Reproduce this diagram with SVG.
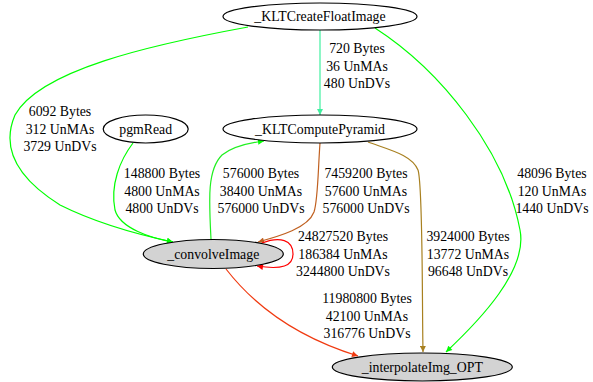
<svg xmlns="http://www.w3.org/2000/svg" width="593" height="382" viewBox="0 0 593 382">
<style>
text{font-family:'Liberation Serif','DejaVu Serif','Times New Roman',serif;font-size:13.8px;fill:#000;text-anchor:middle}
.n{fill:#fff;stroke:#000;stroke-width:1.2}
.g{fill:#d3d3d3;stroke:#000;stroke-width:1.2}
.e{fill:none;stroke-width:1.2}
</style>
<defs>
<marker id="aG" viewBox="0 0 10 10" refX="10" refY="5" markerWidth="7" markerHeight="6" markerUnits="userSpaceOnUse" orient="auto"><path d="M0,0L10,5L0,10z" fill="#00ff00"/></marker>
<marker id="aS" viewBox="0 0 10 10" refX="10" refY="5" markerWidth="7" markerHeight="6" markerUnits="userSpaceOnUse" orient="auto"><path d="M0,0L10,5L0,10z" fill="#40f0a0"/></marker>
<marker id="aB" viewBox="0 0 10 10" refX="10" refY="5" markerWidth="7" markerHeight="6" markerUnits="userSpaceOnUse" orient="auto"><path d="M0,0L10,5L0,10z" fill="#c06020"/></marker>
<marker id="aD" viewBox="0 0 10 10" refX="10" refY="5" markerWidth="7" markerHeight="6" markerUnits="userSpaceOnUse" orient="auto"><path d="M0,0L10,5L0,10z" fill="#a88020"/></marker>
<marker id="aR" viewBox="0 0 10 10" refX="10" refY="5" markerWidth="7" markerHeight="6" markerUnits="userSpaceOnUse" orient="auto"><path d="M0,0L10,5L0,10z" fill="#ff0000"/></marker>
<marker id="aO" viewBox="0 0 10 10" refX="10" refY="5" markerWidth="7" markerHeight="6" markerUnits="userSpaceOnUse" orient="auto"><path d="M0,0L10,5L0,10z" fill="#f03a10"/></marker>
</defs>
<g id="edges">
<path class="e" stroke="#40f0a0" marker-end="url(#aS)" d="M320,30 L320,115"/>
<path class="e" stroke="#00ff00" marker-end="url(#aG)" d="M248,27 C150,45 40,70 15,115 C0,150 20,180 60,205 C100,225 140,235 173,242"/>
<path class="e" stroke="#00ff00" marker-end="url(#aG)" d="M375,28 C440,70 505,150 520,230 C528,270 480,320 446,352"/>
<path class="e" stroke="#00ff00" marker-end="url(#aG)" d="M133,143 C120,160 110,185 115,210 C120,228 150,238 173,242"/>
<path class="e" stroke="#20f020" marker-end="url(#aG)" d="M211,239 C209,200 207,170 222,155 C232,147 248,143 264,141"/>
<path class="e" stroke="#c06020" marker-end="url(#aB)" d="M320,143 C318,170 318,200 314,212 C308,228 280,236 258,242"/>
<path class="e" stroke="#a88020" marker-end="url(#aD)" d="M368,142 C390,150 412,155 418,170 C423,185 422,300 423,352"/>
<path class="e" stroke="#ff0000" marker-end="url(#aR)" d="M262,243 C280,236 293,240 293,254 C293,266 282,270 257,266"/>
<path class="e" stroke="#f03a10" marker-end="url(#aO)" d="M226,269 C250,300 290,335 358,356"/>
</g>
<g id="labels">
<text x="357" y="53">720 Bytes</text><text x="357" y="70.5">36 UnMAs</text><text x="357" y="88">480 UnDVs</text>
<text x="60" y="116">6092 Bytes</text><text x="60" y="133.5">312 UnMAs</text><text x="60" y="151">3729 UnDVs</text>
<text x="162" y="178">148800 Bytes</text><text x="162" y="195.5">4800 UnMAs</text><text x="162" y="213">4800 UnDVs</text>
<text x="261" y="178">576000 Bytes</text><text x="261" y="195.5">38400 UnMAs</text><text x="261" y="213">576000 UnDVs</text>
<text x="366" y="178">7459200 Bytes</text><text x="366" y="195.5">57600 UnMAs</text><text x="366" y="213">576000 UnDVs</text>
<text x="552" y="178">48096 Bytes</text><text x="552" y="195.5">120 UnMAs</text><text x="552" y="213">1440 UnDVs</text>
<text x="343" y="241">24827520 Bytes</text><text x="343" y="258.5">186384 UnMAs</text><text x="343" y="276">3244800 UnDVs</text>
<text x="468" y="241">3924000 Bytes</text><text x="468" y="258.5">13772 UnMAs</text><text x="468" y="276">96648 UnDVs</text>
<text x="367" y="303">11980800 Bytes</text><text x="367" y="320.5">42100 UnMAs</text><text x="367" y="338">316776 UnDVs</text>
</g>
<g id="KLTCreateFloatImage"><ellipse class="n" cx="320" cy="16.5" rx="97" ry="13.5"/><text x="320" y="21">_KLTCreateFloatImage</text></g>
<g id="pgmRead"><ellipse class="n" cx="145.7" cy="129" rx="42.5" ry="14"/><text x="145.7" y="133.5">pgmRead</text></g>
<g id="KLTComputePyramid"><ellipse class="n" cx="320" cy="129" rx="97" ry="14"/><text x="320" y="133.5">_KLTComputePyramid</text></g>
<g id="convolveImage"><ellipse class="g" cx="213.3" cy="254" rx="70" ry="14.5"/><text x="213.3" y="258.5">_convolveImage</text></g>
<g id="interpolateImg_OPT"><ellipse class="g" cx="422.3" cy="367" rx="90" ry="14"/><text x="422.3" y="371.5">_interpolateImg_OPT</text></g>
</svg>
